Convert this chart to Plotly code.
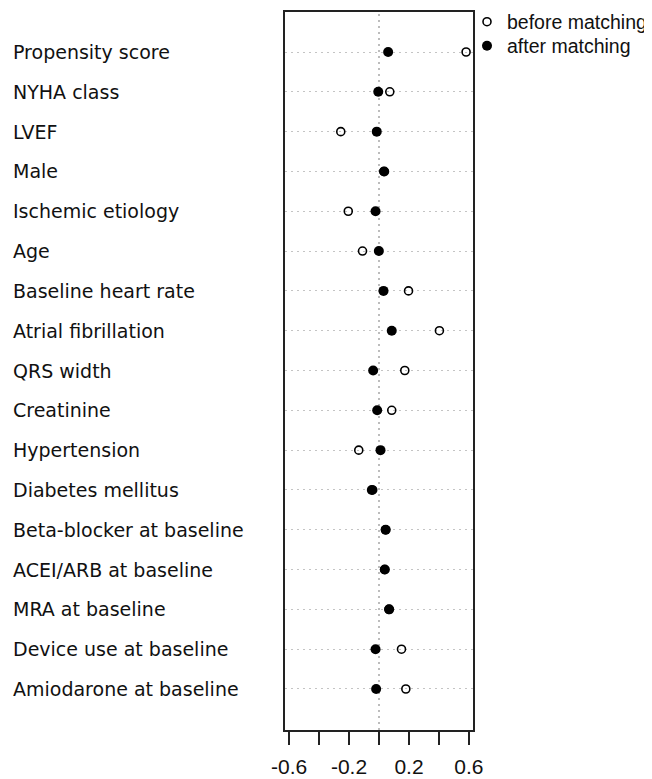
import plotly.graph_objects as go

# ---- data ----
variables = [
    "Propensity score", "NYHA class", "LVEF", "Male", "Ischemic etiology", "Age",
    "Baseline heart rate", "Atrial fibrillation", "QRS width", "Creatinine",
    "Hypertension", "Diabetes mellitus", "Beta-blocker at baseline",
    "ACEI/ARB at baseline", "MRA at baseline", "Device use at baseline",
    "Amiodarone at baseline",
]
before_matching = [0.581, 0.072, -0.255, 0.032, -0.205, -0.110, 0.197, 0.403,
                   0.172, 0.085, -0.135, -0.042, 0.043, 0.037, 0.066, 0.150, 0.179]
after_matching = [0.061, -0.005, -0.015, 0.035, -0.023, -0.001, 0.030, 0.085,
                  -0.039, -0.012, 0.010, -0.048, 0.045, 0.039, 0.068, -0.023, -0.019]
tick_values = [-0.6, -0.4, -0.2, 0.0, 0.2, 0.4, 0.6]
tick_labels = ["-0.6", "", "-0.2", "", "0.2", "", "0.6"]

# page body has an 8px margin; the figure is sized so it fills the window
OFF = 8
W, H = 652 - OFF, 779 - OFF
ML, MR, MT, MB = 285 - OFF, 179, 12 - OFF, 49
PW = W - ML - MR
PH = H - MT - MB

fig = go.Figure()
fig.add_trace(go.Scatter(
    x=before_matching, y=variables, mode="markers", name="before matching",
    legend="legend",
    marker=dict(symbol="circle-open", size=8, color="#000000", line=dict(width=1.6)),
))
fig.add_trace(go.Scatter(
    x=after_matching, y=variables, mode="markers", name="after matching",
    legend="legend2",
    marker=dict(symbol="circle", size=10, color="#000000", line=dict(width=0)),
))

# vertical dotted reference line at zero
fig.add_shape(type="line", xref="x", yref="paper", x0=0, x1=0, y0=0, y1=1,
              line=dict(color="#a0a0a0", width=1.4, dash="2px,4px"), layer="below")

# left-aligned category labels
label_x = (2.5 - ML) / PW
for v in variables:
    fig.add_annotation(x=label_x, xref="paper", y=v, yref="y", text=v,
                       showarrow=False, xanchor="left", yanchor="middle",
                       font=dict(family="DejaVu Sans", size=19, color="#111111"))

def py(screen_y):
    return 1 - (screen_y - OFF - MT) / PH

leg_common = dict(xanchor="left", yanchor="middle",
                  font=dict(family="Liberation Sans, Arial", size=19.5, color="#111111"),
                  bgcolor="rgba(0,0,0,0)", itemwidth=30, tracegroupgap=0)
leg_x = (467 - OFF - ML) / PW

fig.update_layout(
    width=W, height=H,
    margin=dict(l=ML, r=MR, t=MT, b=MB, pad=0, autoexpand=False),
    plot_bgcolor="white", paper_bgcolor="white",
    showlegend=True,
    legend=dict(x=leg_x, y=py(22), **leg_common),
    legend2=dict(x=leg_x, y=py(46), **leg_common),
    xaxis=dict(range=[-0.627, 0.627], tickvals=tick_values, ticktext=tick_labels,
               ticks="outside", ticklen=13, tickwidth=1.6, tickcolor="#222222",
               showline=True, linecolor="#222222", linewidth=1.5, mirror=True,
               showgrid=False, zeroline=False, ticklabelstandoff=4,
               tickfont=dict(family="Liberation Sans, Arial", size=21, color="#111111")),
    yaxis=dict(type="category", categoryorder="array", categoryarray=variables,
               range=[17.03, -1.005], showticklabels=False, ticks="",
               showline=True, linecolor="#222222", linewidth=1.5, mirror=True,
               showgrid=True, gridcolor="#c4c4c4", gridwidth=1.4, griddash="2px,4px",
               zeroline=False),
)

fig.write_html("out.html")
